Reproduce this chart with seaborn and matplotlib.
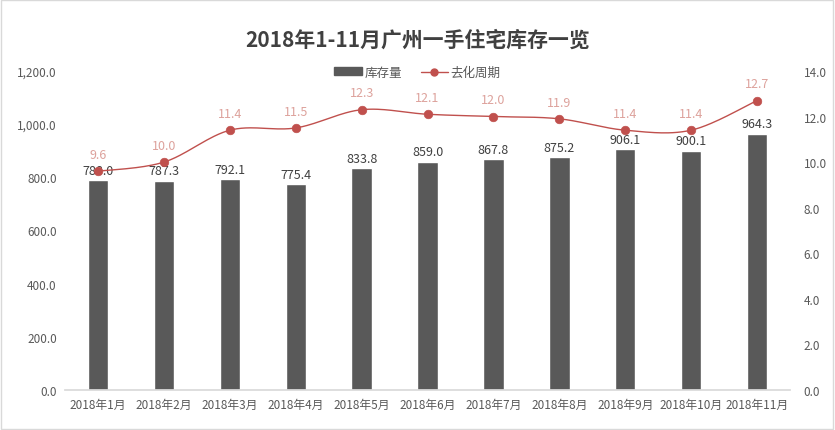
import numpy as np
import pandas as pd
import matplotlib
matplotlib.use("Agg")
import matplotlib.pyplot as plt
import seaborn as sns
from matplotlib.lines import Line2D
from matplotlib.patches import Patch

months = ["2018年1月", "2018年2月", "2018年3月", "2018年4月", "2018年5月", "2018年6月",
          "2018年7月", "2018年8月", "2018年9月", "2018年10月", "2018年11月"]
inventory = [788.0, 787.3, 792.1, 775.4, 833.8, 859.0, 867.8, 875.2, 906.1, 900.1, 964.3]
cycle = [9.6, 10.0, 11.4, 11.5, 12.3, 12.1, 12.0, 11.9, 11.4, 11.4, 12.7]
left_ticks = [0, 200, 400, 600, 800, 1000, 1200]
right_ticks = [0, 2, 4, 6, 8, 10, 12, 14]

sns.set_theme(style="white")
plt.rcParams['font.family'] = ['Noto Sans CJK SC', 'DejaVu Sans']

BAR = "#595959"
LINE = "#C0504D"
LBL = "#DDA29C"
TXT = "#595959"

fig = plt.figure(figsize=(8.35, 4.31), dpi=100)
ax = fig.add_axes([0.078, 0.093, 0.868, 0.740])
df = pd.DataFrame({"month": months, "inv": inventory})
sns.barplot(data=df, x="month", y="inv", color=BAR, width=0.31, ax=ax, saturation=1)
ax.set_ylim(0, 1200)
ax.set_xlim(-0.5, len(months) - 0.5)
ax.set_yticks(left_ticks)
ax.set_yticklabels([f"{v:,.1f}" for v in left_ticks], color=TXT, fontsize=8.5)
ax.set_xticks(range(len(months)))
ax.set_xticklabels(months, color=TXT, fontsize=8.5)
ax.set_xlabel("")
ax.set_ylabel("")
ax.tick_params(axis="both", length=0, pad=6)
for s in ["top", "right", "left"]:
    ax.spines[s].set_visible(False)
ax.spines["bottom"].set_color("#D9D9D9")
for i, v in enumerate(inventory):
    ax.text(i, v + 12, f"{v:.1f}", ha="center", va="bottom", fontsize=9, color="#404040")

ax2 = ax.twinx()
ax2.set_ylim(0, 14)
ax2.set_yticks(right_ticks)
ax2.set_yticklabels([f"{v:.1f}" for v in right_ticks], color=TXT, fontsize=8.5)
ax2.tick_params(axis="y", length=0, pad=10)
for s in ax2.spines.values():
    s.set_visible(False)

# smooth rendering of the line through the data points (Catmull-Rom / cubic Bezier)
xs = np.arange(len(cycle), dtype=float)
ys = np.array(cycle, dtype=float)
cx, cy = [], []
tt = np.linspace(0, 1, 30)
k = 1 / 6
n = len(xs)
for i in range(n - 1):
    i0 = max(i - 1, 0)
    i3 = min(i + 2, n - 1)
    P0 = np.array([xs[i], ys[i]])
    P3 = np.array([xs[i + 1], ys[i + 1]])
    P1 = P0 + (np.array([xs[i + 1], ys[i + 1]]) - np.array([xs[i0], ys[i0]])) * k
    P2 = P3 - (np.array([xs[i3], ys[i3]]) - np.array([xs[i], ys[i]])) * k
    b = ((1 - tt) ** 3)[:, None] * P0 + (3 * (1 - tt) ** 2 * tt)[:, None] * P1 \
        + (3 * (1 - tt) * tt ** 2)[:, None] * P2 + (tt ** 3)[:, None] * P3
    cx.extend(b[:, 0]); cy.extend(b[:, 1])
ax2.plot(cx, cy, color=LINE, lw=1.0)
sns.scatterplot(x=xs, y=ys, ax=ax2, color=LINE, s=38, edgecolor=LINE, zorder=5, legend=False)
for i, v in enumerate(cycle):
    ax2.text(i, v + 0.45, f"{v:.1f}", ha="center", va="bottom", fontsize=9, color=LBL)

fig.text(0.5, 0.907, "2018年1-11月广州一手住宅库存一览", ha="center", va="center",
         fontsize=15, fontweight="bold", color="#404040")

handles = [Patch(facecolor=BAR, edgecolor=BAR),
           Line2D([0], [0], color=LINE, lw=1.0, marker="o", markersize=5)]
fig.legend(handles, ["库存量", "去化周期"], loc="center", bbox_to_anchor=(0.5, 0.83),
           ncol=2, frameon=False, fontsize=9, handlelength=2.2, handleheight=0.6,
           columnspacing=1.5, handletextpad=0.2, labelcolor=TXT)

fig.patches.append(plt.Rectangle((0.001, 0.002), 0.997, 0.996, transform=fig.transFigure,
                                 fill=False, edgecolor="#D9D9D9", lw=1))
fig.savefig("out.png", dpi=100)
